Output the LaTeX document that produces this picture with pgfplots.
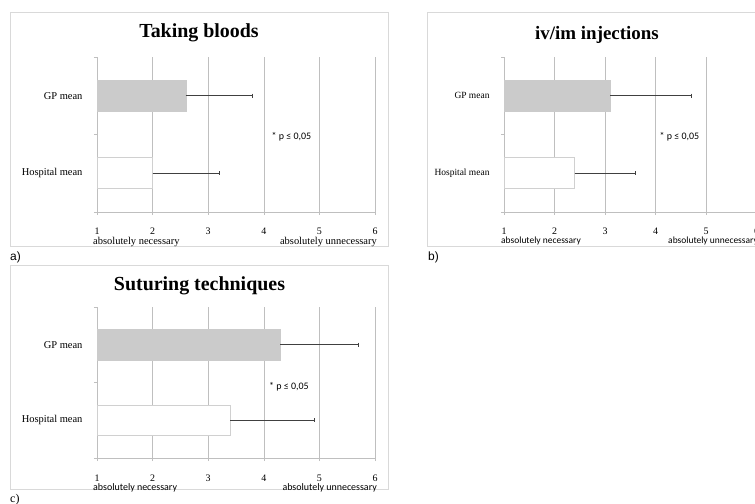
\documentclass[border=0pt]{standalone}
\usepackage{pgfplots}
\pgfplotsset{compat=1.18}
\usepackage{fontspec}
\setmainfont{Liberation Serif}
\newfontfamily\carlito{Carlito}
\newfontfamily\arialf{Liberation Sans}
\definecolor{gridgray}{HTML}{BFBFBF}
\definecolor{framegray}{HTML}{D9D9D9}
\definecolor{gpgray}{HTML}{CBCBCB}
\definecolor{hospedge}{HTML}{D0D0D0}
\definecolor{errc}{HTML}{404040}
\pgfplotsset{panel/.style={
  scale only axis, xbar, clip=true,
  xmin=1, xmax=6, ymin=0, ymax=2,
  xtick={1,2,3,4,5,6},
  ytick={0,1,2}, y tick label as interval,
  yticklabels={Hospital mean, GP mean},
  axis x line*=bottom, axis y line*=left,
  axis line style={draw=gridgray, line width=0.6pt},
  x axis line style={-}, y axis line style={-},
  xmajorgrids, grid style={draw=gridgray, line width=0.6pt},
  tick align=outside, major tick length=3bp,
  tick style={draw=gridgray, line width=0.6pt},
  /pgf/number format/assume math mode=true,
  xticklabel style={font=\fontsize{10}{12}\selectfont, anchor=base, yshift=-20bp},
  yticklabel style={font=\fontsize{10.5}{12}\selectfont, anchor=east, xshift=-8bp},
  gp/.style={xbar, bar shift=0pt, bar width=0.4, fill=gpgray, draw=gpgray,
    error bars/.cd, x dir=plus, x explicit,
    error bar style={errc, line width=0.6pt},
    error mark options={rotate=90, errc, mark size=2bp, line width=0.6pt}},
  hosp/.style={xbar, bar shift=0pt, bar width=0.4, fill=white, draw=hospedge, line width=0.8pt,
    error bars/.cd, x dir=plus, x explicit,
    error bar style={errc, line width=0.6pt},
    error mark options={rotate=90, errc, mark size=2bp, line width=0.6pt}},
}}
\begin{document}
\begin{tikzpicture}
\path[use as bounding box, clip] (0,0) rectangle (755bp,504bp);
% frames
\draw[framegray, line width=0.7pt] (10bp,258bp) rectangle (388bp,492bp);
\draw[framegray, line width=0.7pt] (427bp,258bp) rectangle (770bp,492bp);
\draw[framegray, line width=0.7pt] (10bp,15bp) rectangle (388bp,239bp);

% ---- panel a
\begin{axis}[panel, at={(97bp,292bp)}, anchor=south west, width=278bp, height=155bp]
\addplot[gp] coordinates {(2.6,1.5) +- (1.2,0)};
\addplot[hosp] coordinates {(2.0,0.5) +- (1.2,0)};
\end{axis}
\node[font=\fontsize{20}{23}\selectfont\bfseries] at (199bp,471bp) {Taking bloods};
\node[font=\carlito\fontsize{10}{12}\selectfont] at (291.5bp,367bp) {* p ≤ 0,05};
\node[font=\fontsize{10.5}{12}\selectfont, anchor=west, inner sep=0pt] at (93bp,261.5bp) {absolutely necessary};
\node[font=\fontsize{10.5}{12}\selectfont, anchor=east, inner sep=0pt] at (377bp,261.5bp) {absolutely unnecessary};
\node[font=\arialf\fontsize{12}{14}\selectfont, anchor=west, inner sep=0pt] at (10bp,247bp) {a)};

% ---- panel b
\begin{axis}[panel, at={(504bp,292bp)}, anchor=south west, width=252.5bp, height=155bp,
  yticklabel style={font=\fontsize{9.5}{11}\selectfont}]
\addplot[gp] coordinates {(3.1,1.5) +- (1.6,0)};
\addplot[hosp] coordinates {(2.4,0.5) +- (1.2,0)};
\end{axis}
\node[font=\fontsize{19}{22}\selectfont\bfseries] at (597bp,469bp) {iv/im injections};
\node[font=\carlito\fontsize{10}{12}\selectfont] at (679.5bp,367bp) {* p ≤ 0,05};
\node[font=\carlito\fontsize{9.5}{11}\selectfont, anchor=west, inner sep=0pt] at (501bp,263bp) {absolutely necessary};
\node[font=\carlito\fontsize{9.5}{11}\selectfont, anchor=east, inner sep=0pt] at (758bp,263bp) {absolutely unnecessary};
\node[font=\arialf\fontsize{12}{14}\selectfont, anchor=west, inner sep=0pt] at (428bp,247bp) {b)};

% ---- panel c
\begin{axis}[panel, at={(97bp,46bp)}, anchor=south west, width=278bp, height=151bp]
\addplot[gp] coordinates {(4.3,1.5) +- (1.4,0)};
\addplot[hosp] coordinates {(3.4,0.5) +- (1.5,0)};
\end{axis}
\node[font=\fontsize{20}{23}\selectfont\bfseries] at (199.5bp,218bp) {Suturing techniques};
\node[font=\carlito\fontsize{10}{12}\selectfont] at (289bp,117bp) {* p ≤ 0,05};
\node[font=\carlito\fontsize{10}{12}\selectfont, anchor=west, inner sep=0pt] at (93bp,16bp) {absolutely necessary};
\node[font=\carlito\fontsize{10}{12}\selectfont, anchor=east, inner sep=0pt] at (377bp,16bp) {absolutely unnecessary};
\node[font=\fontsize{12}{14}\selectfont, anchor=west, inner sep=0pt] at (10bp,4bp) {c)};
\end{tikzpicture}
\end{document}
